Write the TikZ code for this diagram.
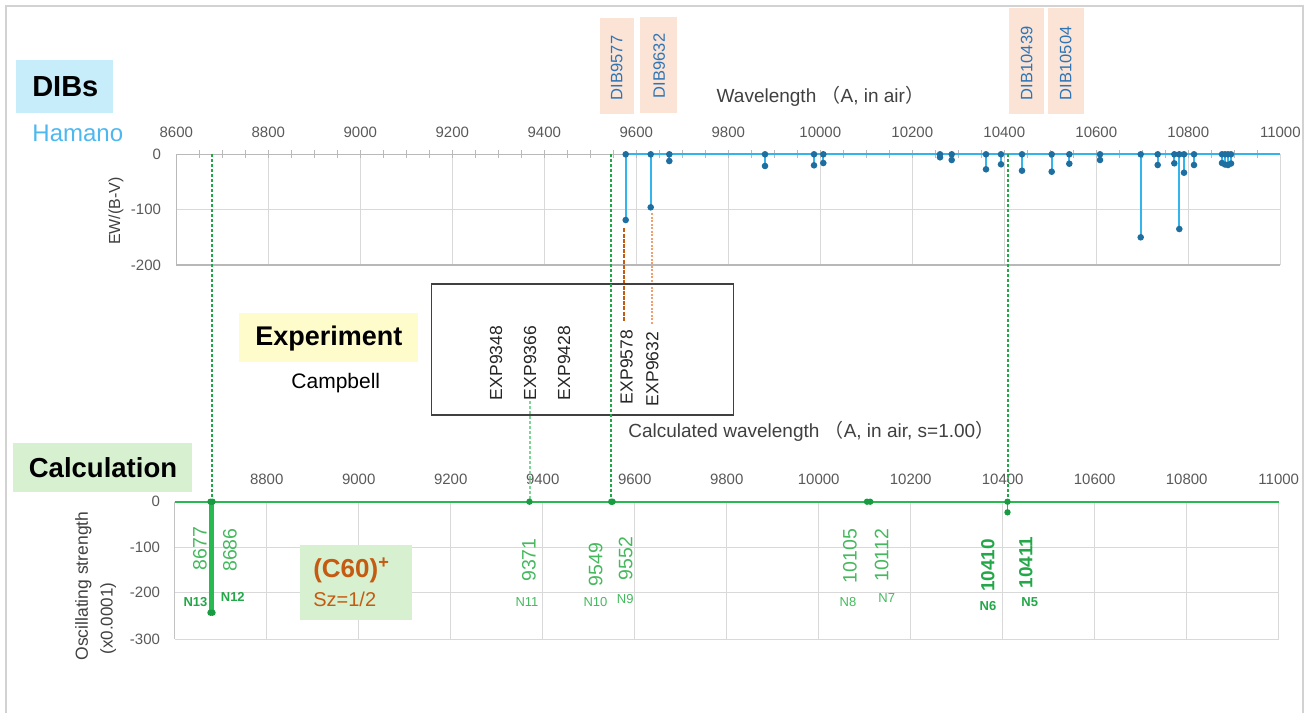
\documentclass[tikz,border=0pt]{standalone}
\usepackage{fontspec}
\setmainfont{Liberation Sans}
\newfontfamily\cjk{Noto Sans CJK JP}
\newcommand\fsz[1]{\fontsize{#1}{#1}\selectfont}
\definecolor{gridc}{RGB}{217,217,217}
\definecolor{axisc}{RGB}{185,185,185}
\definecolor{ticktxt}{RGB}{89,89,89}
\definecolor{dibline}{RGB}{51,180,235}
\definecolor{dibdot}{RGB}{31,110,160}
\definecolor{dibbox}{RGB}{251,228,214}
\definecolor{dibtxt}{RGB}{46,117,182}
\definecolor{dibsbox}{RGB}{199,236,250}
\definecolor{hamano}{RGB}{77,184,240}
\definecolor{expbox}{RGB}{255,252,204}
\definecolor{calcbox}{RGB}{214,240,208}
\definecolor{calcline}{RGB}{40,185,80}
\definecolor{calcdot}{RGB}{25,155,65}
\definecolor{calctxt}{RGB}{70,185,95}
\definecolor{orangetxt}{RGB}{197,90,17}
\definecolor{lightorange}{RGB}{240,160,110}
\definecolor{framec}{RGB}{210,210,210}
\definecolor{darktxt}{RGB}{64,64,64}
\begin{document}
\begin{tikzpicture}[x=1pt,y=-1pt,
  every node/.style={inner sep=0pt,outer sep=0pt},
  grid/.style={draw=gridc,line width=1.2pt},
  ticklab/.style={font=\fsz{15},text=ticktxt},
  ylab/.style={font=\fsz{15},text=ticktxt,anchor=east},
  dibstem/.style={draw=dibline,line width=1.8pt},
  dibdotst/.style={fill=dibdot},
  diblab/.style={font=\fsz{16.5},text=dibtxt,rotate=90,anchor=west},
  explab/.style={font=\fsz{17.5},text=black!85,rotate=90,anchor=west},
  calclab/.style={font=\fsz{19.5},text=calctxt,rotate=90,anchor=west},
  calclabb/.style={font=\bfseries\fsz{19},text=calcline!90!black,rotate=90,anchor=west},
  nlab/.style={font=\fsz{13},text=calctxt},
  nlabb/.style={font=\bfseries\fsz{13},text=calcline!90!black},
  gdash/.style={draw=calcline!90!black,line width=1.7pt,dash pattern=on 3pt off 2pt},
  calcstem/.style={draw=calcline,line width=2.6pt},
  cdot/.style={fill=calcdot}
]
\useasboundingbox (0,0) rectangle (1312,713);
% outer frame
\draw[framec,line width=1.6pt] (6,713) -- (6,6) -- (1303,6) -- (1303,713);

% ---------------- TOP CHART ----------------
\foreach \l in {8800,9000,...,11000}
  \draw[grid] ({176.3+(\l-8600)*0.46},154.3) -- ({176.3+(\l-8600)*0.46},265);
\draw[grid] (176.3,209.3) -- (1280.3,209.3);
\draw[draw=gridc!85!black,line width=1.3pt] (176.3,265) -- (1280.3,265);
\draw[draw=axisc,line width=1.3pt] (176.3,154.3) -- (176.3,265);
\draw[draw=axisc,line width=1.4pt] (176.3,154.3) -- (1280.3,154.3);
\foreach \l in {8650,8700,...,10950}
  \draw[draw=axisc,line width=1pt] ({176.3+(\l-8600)*0.46},150.3) -- ({176.3+(\l-8600)*0.46},158.3);
\foreach \l in {8600,8800,...,11000}
  \node[ticklab] at ({176.3+(\l-8600)*0.46},132) {\l};
\node[ylab] (t0) at (161,154.3) {0};
\node[ylab] (t1) at (161,209.3) {-100};
\node[ylab] (t2) at (161,265) {-200};
\node[font=\fsz{16},text=darktxt,rotate=90] (ewt) at (116,211) {EW/(B-V)};
\node[font=\fsz{19},text=darktxt,anchor=west] (wl) at (716.7,96.7) {Wavelength {\cjk （}A, in air{\cjk ）}};

% DIB labels
\fill[dibbox] (600,18.3) rectangle (634.3,114);
\fill[dibbox] (640,16.7) rectangle (676.7,113.3);
\fill[dibbox] (1009,8.3) rectangle (1044,114);
\fill[dibbox] (1048.3,8.3) rectangle (1084,114);
\node[diblab] (d1) at (616.7,100) {DIB9577};
\node[diblab] (d2) at (659.3,98) {DIB9632};
\node[diblab] (d3) at (1026.7,100) {DIB10439};
\node[diblab] (d4) at (1065.7,100) {DIB10504};

% DIBs / Hamano
\fill[dibsbox] (15.7,60) rectangle (113.3,113.3);
\node[font=\bfseries\fsz{29}] (dibs) at (65.3,86.3) {DIBs};
\node[font=\fsz{24},text=hamano] (ham) at (77.8,133.3) {Hamano};

% green dashed connector end points
\coordinate (g1t) at (212,154.3);   \coordinate (g1b) at (212,501.7);
\coordinate (g2t) at (611,154.3);   \coordinate (g2b) at (611,501.7);
\coordinate (g3t) at (530,401);     \coordinate (g3b) at (530,501.7);
\coordinate (g4t) at (1008,154.3);  \coordinate (g4b) at (1008,501.7);

% blue data
\draw[dibstem,line width=2.2pt] (625.7,154.3) -- (1280.3,154.3);
\foreach \x/\y in {625.7/220,650.7/207.3,669.3/161,765/166,814/165.3,823.3/163,
  940/157.3,951.7/160,986/169.3,1001/164.3,1022/170.7,1051.7/171.7,1069.3/163.7,
  1100/160,1140.7/237.3,1157.7/165,1174.3/163.3,1179.3/229,1184/172.7,1194/165,
  1222/163,1225/164.5,1228/165,1231/163.5}{
  \draw[dibstem] (\x,154.3) -- (\x,\y);
  \fill[dibdotst] (\x,154.3) circle (3.3);
  \fill[dibdotst] (\x,\y) circle (3.3);
}

% orange dashed
\coordinate (o1t) at (624,228.3);   \coordinate (o1b) at (624,321.7);
\coordinate (o2t) at (651.7,213.3); \coordinate (o2b) at (651.7,325);
\draw[draw=orangetxt,line width=1.7pt,dash pattern=on 4pt off 1.2pt] (o1t) -- (o1b);
\draw[draw=lightorange,line width=1.7pt,dash pattern=on 2pt off 1.5pt] (o2t) -- (o2b);

% ---------------- EXPERIMENT ----------------
\fill[expbox] (239.3,313.3) rectangle (418.3,361.7);
\node[font=\bfseries\fsz{27}] (expt) at (328.8,338.3) {Experiment};
\node[font=\fsz{21}] (camp) at (335.8,383.3) {Campbell};
\draw[draw=darktxt,line width=1.5pt] (431.7,284) rectangle (733.3,415);
\node[explab] (e1) at (496,400) {EXP9348};
\node[explab] (e2) at (530,400) {EXP9366};
\node[explab] (e3) at (564,400) {EXP9428};
\node[explab] (e4) at (626.7,404) {EXP9578};
\node[explab] (e5) at (652.3,406) {EXP9632};

% ---------------- CALCULATION ----------------
\fill[calcbox] (13.3,443.3) rectangle (192,491.7);
\node[font=\bfseries\fsz{27.5}] (calc) at (103,467.5) {Calculation};
\node[font=\fsz{19},text=darktxt,anchor=west] (cwl) at (628.3,431.7)
  {Calculated wavelength {\cjk （}A, in air, s=1.00{\cjk ）}};

\foreach \l in {8800,9000,...,11000}
  \draw[grid] ({174.7+(\l-8600)*0.46},501.7) -- ({174.7+(\l-8600)*0.46},639.3);
\foreach \y in {547.7,592.7,639.3}
  \draw[grid] (174.7,\y) -- (1278.7,\y);
\draw[draw=gridc!90!black,line width=1.2pt] (174.7,501.7) -- (174.7,639.3);
\foreach \l in {8800,9000,...,11000}
  \node[ticklab] at ({174.7+(\l-8600)*0.46},479) {\l};
\node[ylab] (b0) at (160,501.7) {0};
\node[ylab] (b1) at (160,547.7) {-100};
\node[ylab] (b2) at (160,592.7) {-200};
\node[ylab] (b3) at (160,639.3) {-300};
\node[font=\fsz{17.5},text=darktxt,rotate=90] (ost) at (83.3,586) {Oscillating strength};
\node[font=\fsz{17},text=darktxt,rotate=90] (osu) at (108.3,618.5) {(x0.0001)};

% green dashed connectors
\draw[gdash] (g1t) -- (g1b);
\draw[gdash] (g2t) -- (g2b);
\draw[gdash,draw=calcline!60] (g3t) -- (g3b);
\draw[gdash] (g4t) -- (g4b);

% green axis and stems
\draw[draw=calcline,line width=2.3pt] (174.7,501.7) -- (1279,501.7);
\draw[calcstem] (210.5,501.7) -- (210.5,612.7);
\draw[calcstem] (212.3,501.7) -- (212.3,612.7);
\draw[calcline,line width=1.8pt] (1007.5,501.7) -- (1007.5,512.3);
\foreach \x/\y in {210.5/501.7,212.5/501.7,210.5/612.7,212.5/612.7,529.4/501.7,611.2/501.7,612.6/501.7,
  867/501.7,870.2/501.7,1007.5/501.7,1007.5/512.3}
  \fill[cdot] (\x,\y) circle (3.2);

% calc labels
\node[calclab] (c1) at (200,570) {8677};
\node[calclab] (c2) at (230,571.7) {8686};
\node[calclab] (c3) at (529,581.7) {9371};
\node[calclab] (c4) at (595.7,586) {9549};
\node[calclab] (c5) at (625.7,580) {9552};
\node[calclab] (c6) at (850,583.3) {10105};
\node[calclab] (c7) at (881.7,581.7) {10112};
\node[calclabb] (c8) at (987.7,591.7) {10410};
\node[calclabb] (c9) at (1025.7,588.3) {10411};
\node[nlabb] (n13) at (195.5,602.3) {N13};
\node[nlabb] (n12) at (232.8,596.7) {N12};
\node[nlab] (n11) at (527,602.3) {N11};
\node[nlab] (n10) at (595.5,602.3) {N10};
\node[nlab] (n9) at (625.3,599.3) {N9};
\node[nlab] (n8) at (848,602.3) {N8};
\node[nlab] (n7) at (886.7,598.3) {N7};
\node[nlabb] (n6) at (988,605.7) {N6};
\node[nlabb] (n5) at (1029.7,602.3) {N5};

% C60 box
\fill[calcbox] (300,545) rectangle (412.3,620);
\node[font=\bfseries\fsz{26},text=orangetxt,anchor=west] (c60) at (313.3,570) {(C60)\textsuperscript{+}};
\node[font=\fsz{20},text=orangetxt,anchor=west] (sz) at (313.3,599) {Sz=1/2};
\end{tikzpicture}
\end{document}
